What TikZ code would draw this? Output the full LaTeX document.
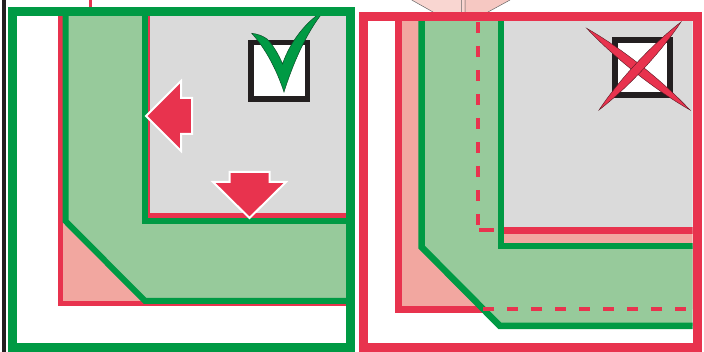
\documentclass[tikz,border=0pt]{standalone}
\usetikzlibrary{calc}
\definecolor{gr}{RGB}{0,154,68}
\definecolor{lgr}{RGB}{151,202,155}
\definecolor{rd}{RGB}{232,51,78}
\definecolor{pk}{RGB}{242,167,160}
\definecolor{gy}{RGB}{218,218,218}
\definecolor{bk}{RGB}{35,31,32}
\definecolor{ppk}{RGB}{249,214,209}
\definecolor{ppk2}{RGB}{246,200,194}
\definecolor{dgr}{RGB}{10,80,40}
\definecolor{drd}{RGB}{90,25,35}
\tikzset{
  grline/.style={draw=gr,line width=6pt},
  rdline/.style={draw=rd,line width=5pt},
  rdline2/.style={draw=rd,line width=7pt},
  rddash/.style={draw=rd,line width=4pt,dash pattern=on 11pt off 13pt},
  arrowbox/.style={fill=rd,draw=white,line width=2pt,line join=miter},
  cbox/.style={fill=white,draw=bk,line width=5.5pt},
  xstroke/.style={fill=rd,draw=drd,line width=0.4pt},
}
\begin{document}
\begin{tikzpicture}[x=1pt,y=-1pt]
\useasboundingbox (0,0) rectangle (704,352);
\fill[white] (0,0) rectangle (704,352);
% ---------------- left panel
\begin{scope}
\clip (17,16) rectangle (346,343);
\fill[gy] (147,16) rectangle (346,216);
\fill[pk] (60.5,16) -- (60.5,304) -- (346,304) -- (346,216) -- (147.5,216) -- (147.5,16) -- cycle;
\draw[rdline] (60.5,10) -- (60.5,304) -- (350,304);
\draw[rdline] (147.5,10) -- (147.5,216) -- (350,216);
\fill[lgr] (65.5,16) -- (65.5,221) -- (145,301) -- (346,301) -- (346,221) -- (145,221) -- (145,16) -- cycle;
\draw[grline] (65.5,10) -- (65.5,221) -- (145,301) -- (350,301);
\draw[grline] (145,10) -- (145,221) -- (350,221);
\draw[arrowbox] (146,116) -- (181,81) -- (181,98) -- (192,98) -- (192,134) -- (181,134) -- (181,151) -- cycle;
\draw[arrowbox] (249.5,218) -- (213,182) -- (229.5,182) -- (229.5,172) -- (269.5,172) -- (269.5,182) -- (286,182) -- cycle;
\draw[cbox] (250.8,42.5) rectangle (307.7,99.2);
\end{scope}
\draw[fill=gr,draw=dgr,line width=0.5pt] (251.7,33.3) .. controls (258,34) and (263,36) .. (267,39)
  .. controls (273,45) and (279,55) .. (282.5,64)
  .. controls (290,42) and (306,21) .. (325,10)
  .. controls (310,27) and (295,57) .. (284,92)
  .. controls (276,68) and (265,48) .. (251.7,33.3) -- cycle;
\draw[gr,line width=9pt] (12.8,11.5) rectangle (350,347.5);
\draw[bk,line width=3.5pt] (4,0) -- (4,352);
\draw[rd,line width=3pt] (90,0) -- (90,7);
% ---------------- right panel
\fill[ppk] (411.7,0) -- (433,12) -- (463.3,12) -- (463.3,0) -- cycle;
\fill[ppk2] (463.3,0) -- (463.3,12) -- (488,12) -- (510,0) -- cycle;
\draw[gray!80!black,line width=0.5pt] (411.7,0) -- (433,12) (510,0) -- (488,12)
  (461.7,0) -- (461.7,12) (465,0) -- (465,12);
\begin{scope}
\clip (368.3,21) rectangle (692.5,343);
\fill[gy] (478,21) rectangle (693,230.5);
\fill[pk] (398.7,21) -- (398.7,309.5) -- (693,309.5) -- (693,230.5) -- (478,230.5) -- (478,21) -- cycle;
\draw[rdline2] (398.7,16) -- (398.7,309.5) -- (486,309.5);
\draw[rdline2] (501,230.5) -- (697,230.5);
\fill[lgr] (421.5,21) -- (421.5,247) -- (500,326) -- (693,326) -- (693,246) -- (501,246) -- (501,21) -- cycle;
\draw[grline,line width=6.5pt] (421.5,15) -- (421.5,247) -- (500,326) -- (697,326);
\draw[grline,line width=6.5pt] (501,15) -- (501,246) -- (697,246);
\draw[rddash] (478,22) -- (478,226);
\draw[draw=rd,line width=4pt] (479.3,230.3) -- (494.3,230.3);
\draw[rddash] (483.3,309.5) -- (693,309.5);
\draw[cbox,line width=6pt] (615,40) rectangle (670.3,95.3);
\coordinate (xa) at (586.7,28.3);
\coordinate (xb) at (690,110);
\coordinate (xc) at (681,22);
\coordinate (xd) at (599,110);
\draw[xstroke] (xa) .. controls ($(xa)!0.3!(xb)!6pt!90:(xb)$) and ($(xa)!0.7!(xb)!6pt!90:(xb)$) .. (xb)
  .. controls ($(xa)!0.7!(xb)!6pt!-90:(xb)$) and ($(xa)!0.3!(xb)!6pt!-90:(xb)$) .. (xa) -- cycle;
\draw[xstroke] (xc) .. controls ($(xc)!0.3!(xd)!6pt!90:(xd)$) and ($(xc)!0.7!(xd)!6pt!90:(xd)$) .. (xd)
  .. controls ($(xc)!0.7!(xd)!6pt!-90:(xd)$) and ($(xc)!0.3!(xd)!6pt!-90:(xd)$) .. (xc) -- cycle;
\end{scope}
\draw[rd,line width=9pt] (363.8,16.5) rectangle (697,347.5);
\end{tikzpicture}
\end{document}
